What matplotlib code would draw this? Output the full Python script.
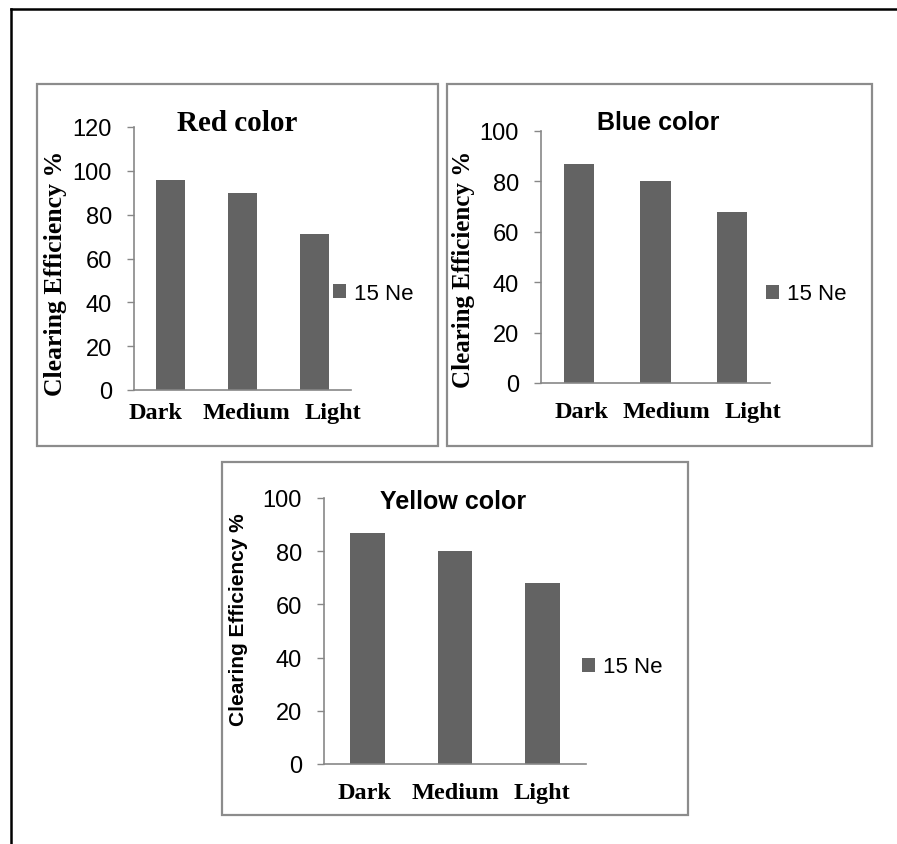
import matplotlib.pyplot as plt
from matplotlib.patches import Rectangle
from matplotlib.lines import Line2D
from matplotlib import font_manager

categories = ['Dark', 'Medium', 'Light']
red_values = [96, 90, 71]
blue_values = [87, 80, 68]
yellow_values = [87, 80, 68]
series_name = '15 Ne'

W, H = 897, 845
bar_color = '#636363'
frame_gray = '#8c8c8c'
axis_gray = '#878787'

serif = 'Liberation Serif'
sans = 'Liberation Sans'
names = {f.name for f in font_manager.fontManager.ttflist}
narrow = 'Liberation Sans Narrow' if 'Liberation Sans Narrow' in names else sans


def px_rect(x0, y0, x1, y1):
    # pixel box (top-left origin) -> figure fraction [left, bottom, width, height]
    return [x0 / W, 1 - y1 / H, (x1 - x0) / W, (y1 - y0) / H]


def draw_panel(fig, box, axbox, values, ymax, title, title_font, title_pos,
               ylab_font, ylab_pos, xpad, xshift, legend_pos):
    # gray panel border
    fig.add_artist(Rectangle((box[0] / W, 1 - box[3] / H), (box[2] - box[0]) / W,
                             (box[3] - box[1]) / H, transform=fig.transFigure,
                             fill=False, edgecolor=frame_gray, linewidth=1.6))
    ax = fig.add_axes(px_rect(*axbox))
    n = len(categories)
    ax.bar(range(n), values, width=0.4, color=bar_color, label=series_name)
    ax.set_xlim(-0.5, n - 0.5)
    ax.set_ylim(0, ymax)
    ax.set_yticks(range(0, ymax + 1, 20))
    # excel spread the category labels a bit unevenly, shift them (pixels -> data units)
    unit_px = (axbox[2] - axbox[0]) / n
    ax.set_xticks([i + dx / unit_px for i, dx in enumerate(xshift)])
    ax.set_xticklabels(categories, fontfamily=serif, fontweight='bold', fontsize=17.5)
    for lab in ax.get_yticklabels():
        lab.set_fontfamily(sans)
        lab.set_fontsize(17)
    ax.tick_params(axis='y', direction='out', length=5, width=1, color=axis_gray, pad=11)
    ax.tick_params(axis='x', length=0, pad=xpad)
    for s in ['top', 'right']:
        ax.spines[s].set_visible(False)
    for s in ['left', 'bottom']:
        ax.spines[s].set_color(axis_gray)
        ax.spines[s].set_linewidth(1.2)

    fam, weight, size = title_font
    ax.text(title_pos[0], title_pos[1], title, transform=ax.transAxes, ha='center',
            va='center', fontfamily=fam, fontweight=weight, fontsize=size)

    fam, size = ylab_font
    ax.set_ylabel('Clearing Efficiency %', fontfamily=fam, fontweight='bold', fontsize=size)
    ax.yaxis.set_label_coords(ylab_pos[0], ylab_pos[1])

    ax.legend(loc='center left', bbox_to_anchor=(legend_pos[0] / W, 1 - legend_pos[1] / H),
              bbox_transform=fig.transFigure, frameon=False, borderpad=0, borderaxespad=0,
              handlelength=0.6, handleheight=0.6, handletextpad=0.35,
              prop={'family': sans, 'size': 16})
    return ax


fig = plt.figure(figsize=(W / 100, H / 100), dpi=100)

# outer page frame (top and left edges only)
fig.add_artist(Line2D([11 / W, 1], [1 - 10 / H, 1 - 10 / H], transform=fig.transFigure,
                      color='black', linewidth=1.8))
fig.add_artist(Line2D([11 / W, 11 / W], [1 - 10 / H, 0], transform=fig.transFigure,
                      color='black', linewidth=1.8))

draw_panel(fig, (37, 85, 438, 447), (134, 128, 351, 391), red_values, 120,
           'Red color', (serif, 'bold', 21), (0.475, 1.019),
           (serif, 18.5), (-0.309, 0.449), 9, (-15, 4, 18), (333, 294))
draw_panel(fig, (447, 85, 872, 447), (541, 132, 770, 384), blue_values, 100,
           'Blue color', (sans, 'bold', 18), (0.511, 1.036),
           (serif, 18), (-0.288, 0.456), 13, (2, 11, 21), (766, 295))
draw_panel(fig, (222, 463, 688, 816), (324, 499, 586, 765), yellow_values, 100,
           'Yellow color', (sans, 'bold', 18), (0.492, 0.989),
           (narrow, 15), (-0.29, 0.545), 13, (-3, 0, 0), (582, 668))

fig.savefig('out.png', dpi=100)
